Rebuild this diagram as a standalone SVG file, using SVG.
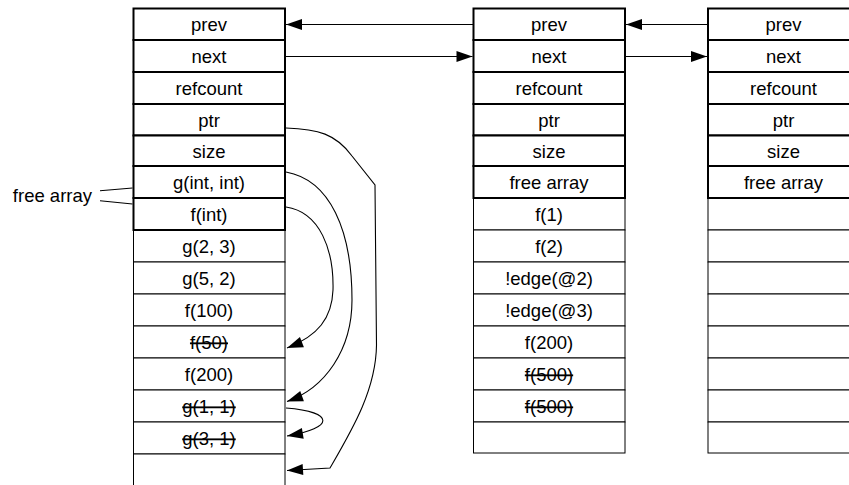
<svg xmlns="http://www.w3.org/2000/svg" width="849" height="485" viewBox="0 0 849 485">
<style>
.hdr{fill:#fff;stroke:#000;stroke-width:2}
.cell{fill:#fff;stroke:#000;stroke-width:1}
text{font-family:"Liberation Sans",Arial,Helvetica,sans-serif;font-size:18.5px;fill:#000}
.c{text-anchor:middle}
.s{text-decoration:line-through}
.conn{fill:none;stroke:#000;stroke-width:1.1}
</style>
<defs>
<marker id="ah" markerUnits="userSpaceOnUse" markerWidth="16" markerHeight="11" refX="16" refY="5.5" orient="auto" overflow="visible">
<path d="M0,0 L16,5.5 L0,11 Z" fill="#000"/>
</marker>
</defs>
<rect x="0" y="0" width="849" height="485" fill="#fff"/>

<g id="block1">
<rect class="cell" x="133.5" y="230" width="151.5" height="32"/>
<rect class="cell" x="133.5" y="262" width="151.5" height="32"/>
<rect class="cell" x="133.5" y="294" width="151.5" height="32"/>
<rect class="cell" x="133.5" y="326" width="151.5" height="32"/>
<rect class="cell" x="133.5" y="358" width="151.5" height="32"/>
<rect class="cell" x="133.5" y="390" width="151.5" height="32"/>
<rect class="cell" x="133.5" y="422" width="151.5" height="32"/>
<rect class="cell" x="133.5" y="454" width="151.5" height="34"/>
<rect class="hdr" x="133.5" y="8.5" width="151.5" height="31.5"/>
<rect class="hdr" x="133.5" y="40" width="151.5" height="32"/>
<rect class="hdr" x="133.5" y="72" width="151.5" height="32"/>
<rect class="hdr" x="133.5" y="104" width="151.5" height="31.5"/>
<rect class="hdr" x="133.5" y="135.5" width="151.5" height="30.5"/>
<rect class="hdr" x="133.5" y="166" width="151.5" height="32"/>
<rect class="hdr" x="133.5" y="198" width="151.5" height="32"/>
<text class="c" x="209" y="31">prev</text>
<text class="c" x="209" y="63">next</text>
<text class="c" x="209" y="95">refcount</text>
<text class="c" x="209" y="127">ptr</text>
<text class="c" x="209" y="158">size</text>
<text class="c" x="209" y="189">g(int, int)</text>
<text class="c" x="209" y="221">f(int)</text>
<text class="c" x="209" y="253">g(2, 3)</text>
<text class="c" x="209" y="285">g(5, 2)</text>
<text class="c" x="209" y="317">f(100)</text>
<text class="c s" x="209" y="349">f(50)</text>
<text class="c" x="209" y="381">f(200)</text>
<text class="c s" x="209" y="413">g(1, 1)</text>
<text class="c s" x="209" y="445">g(3, 1)</text>
</g>

<g id="block2">
<rect class="cell" x="473.5" y="198" width="151.5" height="32"/>
<rect class="cell" x="473.5" y="230" width="151.5" height="32"/>
<rect class="cell" x="473.5" y="262" width="151.5" height="32"/>
<rect class="cell" x="473.5" y="294" width="151.5" height="32"/>
<rect class="cell" x="473.5" y="326" width="151.5" height="32"/>
<rect class="cell" x="473.5" y="358" width="151.5" height="32"/>
<rect class="cell" x="473.5" y="390" width="151.5" height="32"/>
<rect class="cell" x="473.5" y="422" width="151.5" height="31"/>
<rect class="hdr" x="473.5" y="8.5" width="151.5" height="31.5"/>
<rect class="hdr" x="473.5" y="40" width="151.5" height="32"/>
<rect class="hdr" x="473.5" y="72" width="151.5" height="32"/>
<rect class="hdr" x="473.5" y="104" width="151.5" height="31.5"/>
<rect class="hdr" x="473.5" y="135.5" width="151.5" height="30.5"/>
<rect class="hdr" x="473.5" y="166" width="151.5" height="32"/>
<text class="c" x="549" y="31">prev</text>
<text class="c" x="549" y="63">next</text>
<text class="c" x="549" y="95">refcount</text>
<text class="c" x="549" y="127">ptr</text>
<text class="c" x="549" y="158">size</text>
<text class="c" x="549" y="189">free array</text>
<text class="c" x="549" y="221">f(1)</text>
<text class="c" x="549" y="253">f(2)</text>
<text class="c" x="549" y="285">!edge(@2)</text>
<text class="c" x="549" y="317">!edge(@3)</text>
<text class="c" x="549" y="349">f(200)</text>
<text class="c s" x="549" y="381">f(500)</text>
<text class="c s" x="549" y="413">f(500)</text>
</g>

<g id="block3">
<rect class="cell" x="708" y="198" width="151.5" height="32"/>
<rect class="cell" x="708" y="230" width="151.5" height="32"/>
<rect class="cell" x="708" y="262" width="151.5" height="32"/>
<rect class="cell" x="708" y="294" width="151.5" height="32"/>
<rect class="cell" x="708" y="326" width="151.5" height="32"/>
<rect class="cell" x="708" y="358" width="151.5" height="32"/>
<rect class="cell" x="708" y="390" width="151.5" height="32"/>
<rect class="cell" x="708" y="422" width="151.5" height="31"/>
<rect class="hdr" x="708" y="8.5" width="151.5" height="31.5"/>
<rect class="hdr" x="708" y="40" width="151.5" height="32"/>
<rect class="hdr" x="708" y="72" width="151.5" height="32"/>
<rect class="hdr" x="708" y="104" width="151.5" height="31.5"/>
<rect class="hdr" x="708" y="135.5" width="151.5" height="30.5"/>
<rect class="hdr" x="708" y="166" width="151.5" height="32"/>
<text class="c" x="783.5" y="31">prev</text>
<text class="c" x="783.5" y="63">next</text>
<text class="c" x="783.5" y="95">refcount</text>
<text class="c" x="783.5" y="127">ptr</text>
<text class="c" x="783.5" y="158">size</text>
<text class="c" x="783.5" y="189">free array</text>
</g>

<g id="free-array-label">
<text x="92" y="202" text-anchor="end">free array</text>
<path class="conn" d="M100,190.7 L132.5,188 M100,200.7 L132.5,204" stroke-width="1"/>
</g>

<g id="connectors">
<path class="conn" d="M473,24.5 L286,24.5" marker-end="url(#ah)"/>
<path class="conn" d="M286,56.5 L472.5,56.5" marker-end="url(#ah)"/>
<path class="conn" d="M707,24.5 L626,24.5" marker-end="url(#ah)"/>
<path class="conn" d="M626,56.5 L707,56.5" marker-end="url(#ah)"/>
<path class="conn" d="M286,128 C318,129 336,134 352,156 L375,185 L376.5,345 C376,390 352,430 330,468 L287,470.5" marker-end="url(#ah)"/>
<path class="conn" d="M286,172 C330,180 352,230 352,300 C352,350 325,388 287,401.5" marker-end="url(#ah)"/>
<path class="conn" d="M286,207 C320,212 334,250 333,290 C332,318 318,336 287,348" marker-end="url(#ah)"/>
<path class="conn" d="M286,408 C335,412 335,428 287,436" marker-end="url(#ah)"/>
</g>
</svg>
